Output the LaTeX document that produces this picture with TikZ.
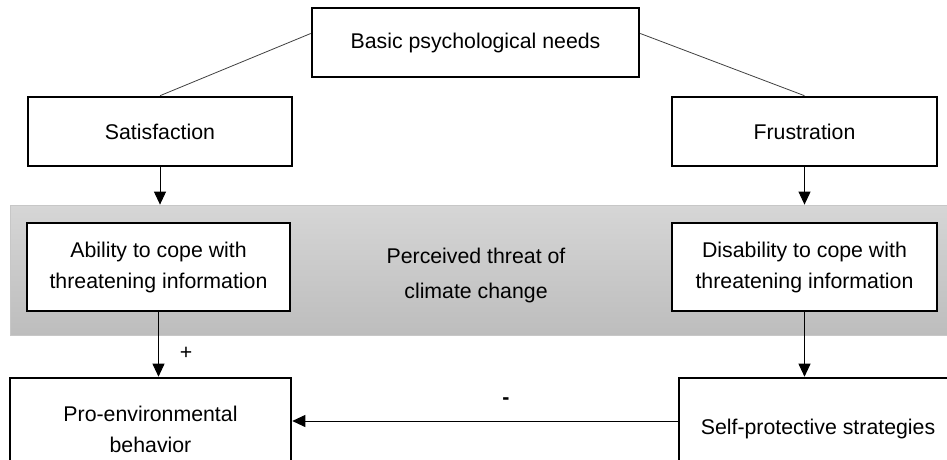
\documentclass[tikz,border=0pt]{standalone}
\usepackage{fontspec}
\setmainfont{Liberation Sans}
\usetikzlibrary{arrows.meta}
\definecolor{bandtop}{HTML}{D6D6D6}
\definecolor{bandbot}{HTML}{BDBDBD}

\begin{document}
\begin{tikzpicture}[x=1pt, y=-1pt,
  box/.style={draw, line width=2.6pt, fill=white, align=center, inner sep=2pt,
              font=\fontsize{21.3}{31}\selectfont},
  arr/.style={-{Triangle[length=13pt,width=12pt]}, line width=0.9pt},
  link/.style={line width=0.8pt, draw=black!75},
  sign/.style={font=\fontsize{21.3}{25}\selectfont}]
  \clip (0,0) rectangle (947,459);
  % grey band behind the middle row
  \node[draw=black!22, line width=0.8pt, top color=bandtop, bottom color=bandbot,
        minimum width=937pt, minimum height=130pt, inner sep=0pt] (band) at (478.5,270) {};
  \node[box, minimum width=327pt, minimum height=69pt] (needs) at (475.5,42.5) {Basic psychological needs};
  \node[box, minimum width=264pt, minimum height=69pt] (sat) at (160,131.5) {Satisfaction};
  \node[box, minimum width=265pt, minimum height=69pt] (frus) at (804.5,131.5) {Frustration};
  \node[box, minimum width=263pt, minimum height=88pt] (able) at (158.5,267) {Ability to cope with\\threatening information};
  \node[box, minimum width=265pt, minimum height=88pt] (unable) at (frus |- able) {Disability to cope with\\threatening information};
  \node[align=center, font=\fontsize{21.3}{35}\selectfont] (threat) at (476,275.5) {Perceived threat of\\climate change};
  \node[box, minimum width=281pt, minimum height=102pt] (pro) at (150.5,429) {Pro-environmental\\behavior};
  \node[box, minimum width=278pt, minimum height=102pt] (self) at (818,429) {Self-protective strategies};
  \draw[link] ([yshift=9pt]needs.west) -- (sat.north);
  \draw[link] ([yshift=9pt]needs.east) -- (frus.north);
  \draw[arr] (sat.south) -- (sat.south |- band.north);
  \draw[arr] (frus.south) -- (frus.south |- band.north);
  \draw[arr] (able.south) -- (able.south |- pro.north);
  \draw[arr] (unable.south) -- (unable.south |- self.north);
  \draw[arr] ([yshift=8pt]self.west) -- ([yshift=8pt]self.west -| pro.east);
  \node[sign] (plus) at (186,353) {+};
  \node[sign, font=\fontsize{21.3}{25}\selectfont\bfseries] (minus) at (506,401) {-};
\end{tikzpicture}
\end{document}
